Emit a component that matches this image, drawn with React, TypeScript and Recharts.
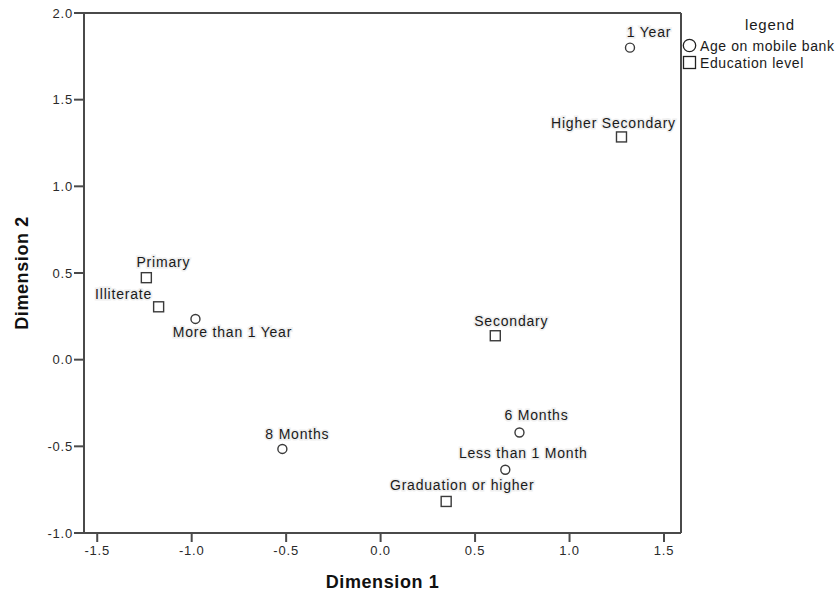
import {
  ScatterChart,
  Scatter,
  XAxis,
  YAxis,
  ReferenceLine,
  Legend,
} from "recharts";

const ageNames = ["1 Year", "More than 1 Year", "6 Months", "8 Months", "Less than 1 Month"];
const ageDim1 = [1.32, -0.98, 0.735, -0.52, 0.66];
const ageDim2 = [1.8, 0.235, -0.42, -0.515, -0.635];

const eduNames = ["Higher Secondary", "Primary", "Illiterate", "Secondary", "Graduation or higher"];
const eduDim1 = [1.275, -1.24, -1.175, 0.607, 0.347];
const eduDim2 = [1.285, 0.473, 0.305, 0.138, -0.818];

const xTicks = [-1.5, -1.0, -0.5, 0.0, 0.5, 1.0, 1.5];
const yTicks = [-1.0, -0.5, 0.0, 0.5, 1.0, 1.5, 2.0];

const X_MIN = -1.57;
const X_MAX = 1.59;
const Y_MIN = -1;
const Y_MAX = 2;

// where each point label sits relative to its marker (text centre)
const labelOffset: Record<string, [number, number]> = {
  "1 Year": [19, -16],
  "More than 1 Year": [37, 13],
  "6 Months": [17, -17],
  "8 Months": [15, -15],
  "Less than 1 Month": [18, -17],
  "Higher Secondary": [-8, -14],
  "Primary": [17, -16],
  "Illiterate": [-35, -13],
  "Secondary": [16, -15],
  "Graduation or higher": [16, -16],
};

const ageData = ageNames.map((name, i) => ({ name, x: ageDim1[i], y: ageDim2[i] }));
const eduData = eduNames.map((name, i) => ({ name, x: eduDim1[i], y: eduDim2[i] }));

const FONT = "'Liberation Sans', Arial, sans-serif";
const INK = "#3a3a3a";
const AXIS = "#4a4a4a";

function PointLabel({ cx, cy, name }: { cx: number; cy: number; name: string }) {
  const [dx, dy] = labelOffset[name] ?? [0, -14];
  return (
    <text
      x={cx + dx}
      y={cy + dy}
      textAnchor="middle"
      dominantBaseline="central"
      fontFamily={FONT}
      fontSize={14}
      letterSpacing={0.8}
      fill="#1a1a1a"
      stroke="#efefef"
      strokeWidth={3}
      paintOrder="stroke"
    >
      {name}
    </text>
  );
}

function CircleShape(props: any) {
  const { cx, cy, payload } = props;
  return (
    <g>
      <circle cx={cx} cy={cy} r={4.5} fill="#fff" stroke={INK} strokeWidth={1.4} />
      <PointLabel cx={cx} cy={cy} name={payload.name} />
    </g>
  );
}

function SquareShape(props: any) {
  const { cx, cy, payload } = props;
  return (
    <g>
      <rect x={cx - 5} y={cy - 5} width={10} height={10} fill="#fff" stroke={INK} strokeWidth={1.4} />
      <PointLabel cx={cx} cy={cy} name={payload.name} />
    </g>
  );
}

function LegendBox({ payload }: any) {
  return (
    <div style={{ fontFamily: FONT, color: "#1a1a1a", width: 180 }}>
      <div style={{ textAlign: "center", fontSize: 15, lineHeight: "18px", letterSpacing: 0.8, paddingRight: 4, marginBottom: 3 }}>
        legend
      </div>
      {(payload ?? []).map((entry: any) => (
        <div
          key={entry.value}
          style={{ display: "flex", alignItems: "center", height: 17, fontSize: 14, letterSpacing: 0.6, whiteSpace: "nowrap" }}
        >
          <svg width={15} height={15} style={{ marginRight: 3, flex: "none" }}>
            {entry.type === "circle" ? (
              <circle cx={7.5} cy={7.5} r={6.2} fill="#fff" stroke="#222" strokeWidth={1.3} />
            ) : (
              <rect x={1.5} y={1.5} width={12} height={12} fill="#fff" stroke="#222" strokeWidth={1.3} />
            )}
          </svg>
          {entry.value}
        </div>
      ))}
    </div>
  );
}

export default function App() {
  const tickStyle = { fill: "#2a2a2a", fontSize: 13, fontFamily: FONT, letterSpacing: 0.8 };
  return (
    <div style={{ position: "absolute", left: 0, top: 0, width: 840, height: 594, overflow: "hidden", background: "#fff" }}>
      <ScatterChart width={840} height={594} margin={{ top: 13, right: 159, bottom: 0, left: 0 }}>
        <XAxis
          type="number"
          dataKey="x"
          domain={[X_MIN, X_MAX]}
          ticks={xTicks}
          tickFormatter={(v: number) => v.toFixed(1)}
          allowDataOverflow
          height={61}
          tick={tickStyle}
          tickSize={9}
          tickMargin={4}
          stroke={AXIS}
          strokeWidth={2}
          label={{
            value: "Dimension 1",
            position: "insideBottom",
            offset: 6,
            style: { fontFamily: FONT, fontSize: 18, fontWeight: "bold", fill: "#111", letterSpacing: 0.6 },
          }}
        />
        <YAxis
          type="number"
          dataKey="y"
          domain={[Y_MIN, Y_MAX]}
          ticks={yTicks}
          tickFormatter={(v: number) => v.toFixed(1)}
          allowDataOverflow
          width={84}
          tick={tickStyle}
          tickSize={10}
          tickMargin={1}
          stroke={AXIS}
          strokeWidth={2}
          label={{
            content: ({ viewBox }: any) => {
              const cx = viewBox.x + 22;
              const cy = viewBox.y + viewBox.height / 2;
              return (
                <text
                  x={cx}
                  y={cy}
                  transform={`rotate(-90 ${cx} ${cy})`}
                  textAnchor="middle"
                  dominantBaseline="central"
                  fontFamily={FONT}
                  fontSize={18}
                  fontWeight="bold"
                  letterSpacing={0.6}
                  fill="#111"
                >
                  Dimension 2
                </text>
              );
            },
          }}
        />
        <ReferenceLine y={Y_MAX} stroke={AXIS} strokeWidth={2} />
        <ReferenceLine x={X_MAX} stroke={AXIS} strokeWidth={2} />
        <Legend
          layout="vertical"
          align="center"
          verticalAlign="middle"
          content={<LegendBox />}
          wrapperStyle={{ left: 682, top: 16, width: 180 }}
        />
        <Scatter
          name="Age on mobile bank"
          data={ageData}
          legendType="circle"
          fill="#fff"
          shape={CircleShape}
          isAnimationActive={false}
        />
        <Scatter
          name="Education level"
          data={eduData}
          legendType="square"
          fill="#fff"
          shape={SquareShape}
          isAnimationActive={false}
        />
      </ScatterChart>
    </div>
  );
}
